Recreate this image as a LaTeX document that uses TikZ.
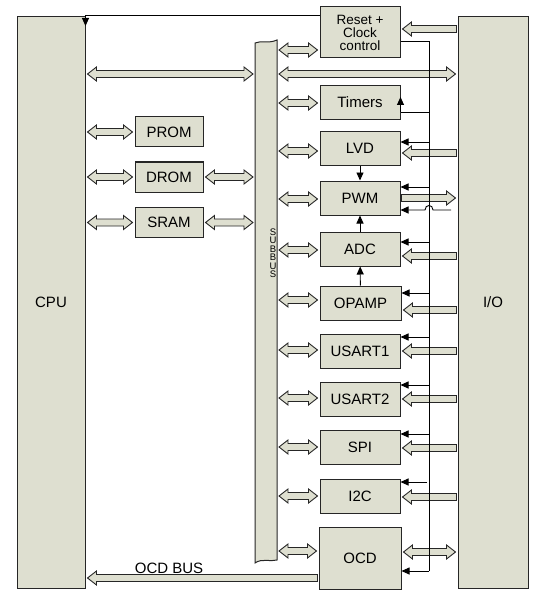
\documentclass[tikz,border=0pt]{standalone}
\usepackage{fontspec}
\setmainfont{Liberation Sans}
\usetikzlibrary{arrows.meta,calc}
\definecolor{boxfill}{RGB}{222,223,208}

% hollow bus arrows, given left and right end
\newcommand{\dbus}[2]{\filldraw[busarrow] let \p1=#1, \p2=#2 in
  (\x1+2,\y1) -- (\x1+11,\y1+7) -- (\x1+11,\y1+3.5) -- (\x2-11,\y1+3.5) -- (\x2-11,\y1+7)
  -- (\x2-2,\y1) -- (\x2-11,\y1-7) -- (\x2-11,\y1-3.5) -- (\x1+11,\y1-3.5) -- (\x1+11,\y1-7) -- cycle;}
\newcommand{\lbus}[2]{\filldraw[busarrow] let \p1=#1, \p2=#2 in
  (\x1+2,\y1) -- (\x1+11,\y1+7) -- (\x1+11,\y1+3.5) -- (\x2-1,\y1+3.5)
  -- (\x2-1,\y1-3.5) -- (\x1+11,\y1-3.5) -- (\x1+11,\y1-7) -- cycle;}
\newcommand{\rbus}[2]{\filldraw[busarrow] let \p1=#1, \p2=#2 in
  (\x1+1,\y1+3.5) -- (\x2-11,\y1+3.5) -- (\x2-11,\y1+7) -- (\x2-2,\y1)
  -- (\x2-11,\y1-7) -- (\x2-11,\y1-3.5) -- (\x1+1,\y1-3.5) -- cycle;}

\begin{document}
\begin{tikzpicture}[x=1pt, y=-1pt,
  blk/.style={draw=black!85, fill=boxfill, line width=1pt, minimum width=80,
    minimum height=34, inner sep=0pt, font=\fontsize{15}{12.5}\selectfont},
  busarrow/.style={draw=black!85, fill=boxfill, line width=0.9pt},
  sig/.style={draw=black, line width=0.9pt},
  sigarrow/.style={-{Triangle[length=8pt,width=7pt]}}]
\useasboundingbox (0,0) rectangle (541,596);

% CPU, I/O and the blocks
\node[blk, minimum width=68, minimum height=571] (cpu) at (51,302.5) {CPU};
\node[blk, minimum width=70, minimum height=571] (io) at (493,302.5) {I/O};
\node[blk, minimum height=51, align=center, font=\fontsize{13.5}{13}\selectfont] (rst) at (360,32.5) {Reset +\\Clock\\control};
\node[blk] (tmr) at (360,102.5) {Timers};
\node[blk] (lvd) at (360,148.5) {LVD};
\node[blk] (pwm) at (360,198) {PWM};
\node[blk] (adc) at (360,249) {ADC};
\node[blk, minimum width=81] (opamp) at (360.5,303) {OPAMP};
\node[blk] (usart1) at (360,351.5) {USART1};
\node[blk] (usart2) at (360,399) {USART2};
\node[blk] (spi) at (360,447) {SPI};
\node[blk] (i2c) at (360,496) {I2C};
\node[blk, minimum width=82, minimum height=62] (ocd) at (360,558) {OCD};
\node[blk, minimum width=68, minimum height=30] (prom) at (169,132) {PROM};
\node[blk, minimum width=68, minimum height=30] (drom) at (169,177) {DROM};
\node[blk, minimum width=68, minimum height=30] (sram) at (169,222.5) {SRAM};

% the bus
\filldraw[draw=black!85, fill=boxfill, line width=1pt] (255,43) .. controls (262,40) and (268,44) .. (277,40)
  -- (277,560) .. controls (270,562) and (262,558) .. (255,563) -- cycle;
\coordinate (busL) at (255,300);
\coordinate (busR) at (277,300);
\node[inner sep=0pt, align=center, font=\fontsize{9.5}{8.5}\selectfont] (buslbl) at (273,253) {S\\U\\B\\B\\U\\S};
\coordinate (ctl) at (429,41);

% hollow arrows
\dbus{(cpu.east|-0,74)}{(busL|-0,74)}
\dbus{(busR|-0,74)}{(io.west|-0,74)}
\dbus{(cpu.east|-prom)}{(prom.west)}
\dbus{(cpu.east|-drom)}{(drom.west)}
\dbus{(cpu.east|-sram)}{(sram.west)}
\dbus{(drom.east)}{(busL|-drom)}
\dbus{(sram.east)}{(busL|-sram)}
\dbus{(busR|-0,50)}{(rst.west|-0,50)}
\dbus{(busR|-0,103)}{(tmr.west|-0,103)}
\dbus{(busR|-0,151)}{(lvd.west|-0,151)}
\dbus{(busR|-0,199)}{(pwm.west|-0,199)}
\dbus{(busR|-0,250)}{(adc.west|-0,250)}
\dbus{(busR|-0,300)}{(opamp.west|-0,300)}
\dbus{(busR|-0,350)}{(usart1.west|-0,350)}
\dbus{(busR|-0,398)}{(usart2.west|-0,398)}
\dbus{(busR|-0,447)}{(spi.west|-0,447)}
\dbus{(busR|-0,496)}{(i2c.west|-0,496)}
\dbus{(busR|-0,551)}{(ocd.west|-0,551)}
\lbus{(rst.east|-0,29)}{(io.west|-0,29)}
\lbus{(lvd.east|-0,153)}{(io.west|-0,153)}
\rbus{(pwm.east|-0,198)}{(io.west|-0,198)}
\lbus{(adc.east|-0,256)}{(io.west|-0,256)}
\lbus{(opamp.east|-0,310)}{(io.west|-0,310)}
\lbus{(usart1.east|-0,351)}{(io.west|-0,351)}
\lbus{(usart2.east|-0,399)}{(io.west|-0,399)}
\lbus{(spi.east|-0,448)}{(io.west|-0,448)}
\lbus{(i2c.east|-0,497)}{(io.west|-0,497)}
\dbus{(ocd.east|-0,552)}{(io.west|-0,552)}
\lbus{(cpu.east|-0,578)}{(ocd.west|-0,578)}
\node[font=\fontsize{15}{15}\selectfont, inner sep=0pt] (ocdbus) at (169,568) {OCD BUS};

% control lines
\draw[sig, sigarrow] (rst.west|-0,15) -- (cpu.east|-0,15) -- (cpu.east|-0,26);
\draw[sig] (rst.east|-0,41) -- (ctl) -- (ctl|-0,571);
\draw[sig, sigarrow] (ctl|-0,571) -- (ocd.east|-0,571);
\draw[sig] (ctl|-0,112) -- (tmr.east|-0,112);
\draw[sig, sigarrow] (tmr.east|-0,112) -- (tmr.east|-0,97);
\draw[sig, sigarrow] (ctl|-0,142) -- (lvd.east|-0,142);
\draw[sig, sigarrow] (ctl|-0,187) -- (pwm.east|-0,187);
\draw[sig, sigarrow] (451,210) -- (433,210) .. controls (433,204) and (425,204) .. (425,210) -- (pwm.east|-0,210);
\draw[sig, sigarrow] (ctl|-0,242) -- (adc.east|-0,242);
\draw[sig, sigarrow] (ctl|-0,293) -- (opamp.east|-0,293);
\draw[sig, sigarrow] (ctl|-0,337) -- (usart1.east|-0,337);
\draw[sig, sigarrow] (ctl|-0,385) -- (usart2.east|-0,385);
\draw[sig, sigarrow] (ctl|-0,434) -- (spi.east|-0,434);
\draw[sig, sigarrow] (427,482) -- (i2c.east|-0,482);
\draw[sig, sigarrow] (lvd) -- (pwm);
\draw[sig, sigarrow] (adc) -- (pwm);
\draw[sig, sigarrow] (opamp) -- (adc);
\end{tikzpicture}
\end{document}
